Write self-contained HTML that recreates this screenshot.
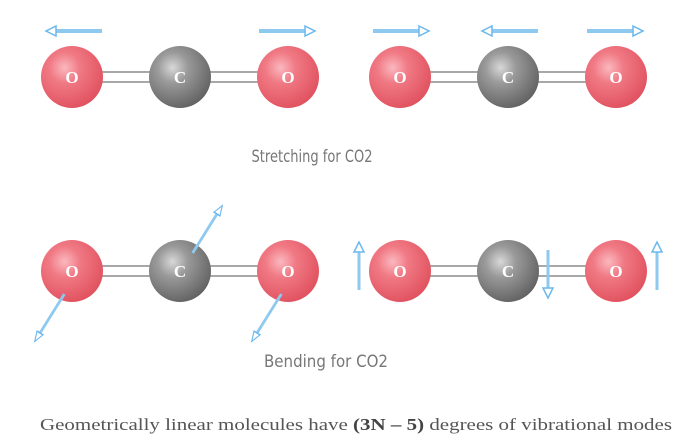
<!DOCTYPE html>
<html><head><style>body{margin:0;background:#fff}svg{display:block}</style></head><body>
<svg width="682" height="440" viewBox="0 0 682 440" xmlns="http://www.w3.org/2000/svg">
<defs>
<radialGradient id="r" cx="0.38" cy="0.35" r="0.7">
<stop offset="0" stop-color="#fbb8bf"/><stop offset="0.35" stop-color="#f07a85"/><stop offset="1" stop-color="#e0505d"/></radialGradient>
<radialGradient id="g" cx="0.38" cy="0.35" r="0.7">
<stop offset="0" stop-color="#d8d8d8"/><stop offset="0.35" stop-color="#9a9a9a"/><stop offset="1" stop-color="#606060"/></radialGradient>
<g id="mol">
<rect x="0" y="-6" width="216" height="12" fill="#fff"/>
<line x1="0" y1="-5" x2="216" y2="-5" stroke="#a8a8a8" stroke-width="2"/>
<line x1="0" y1="5" x2="216" y2="5" stroke="#a8a8a8" stroke-width="2"/>
<circle cx="0" cy="0" r="31" fill="url(#r)"/>
<circle cx="108" cy="0" r="31" fill="url(#g)"/>
<circle cx="216" cy="0" r="31" fill="url(#r)"/>
<g font-family="Liberation Serif,serif" font-weight="bold" font-size="17" fill="#fff" text-anchor="middle">
<text x="0" y="6">O</text><text x="108" y="6">C</text><text x="216" y="6">O</text></g>
</g>
<g id="ar"><line x1="0" y1="0" x2="-46" y2="0" stroke="#8ec9f0" stroke-width="4"/><path d="M0,-5 L10,0 L0,5 Z" fill="#fff" stroke="#6bb8ee" stroke-width="1.5"/></g>
<g id="arv"><line x1="0" y1="0" x2="0" y2="-38" stroke="#8ec9f0" stroke-width="3"/><path d="M-5,0 L0,10 L5,0 Z" fill="#fff" stroke="#6bb8ee" stroke-width="1.5" transform="translate(0,-38) rotate(180)"/></g>
</defs>
<use href="#mol" x="72" y="77"/>
<use href="#mol" x="400" y="77"/>
<use href="#mol" x="72" y="271"/>
<use href="#mol" x="400" y="271"/>
<use href="#ar" transform="translate(56,31) rotate(180)"/>
<use href="#ar" transform="translate(305,31)"/>
<use href="#ar" transform="translate(419,31)"/>
<use href="#ar" transform="translate(492,31) rotate(180)"/>
<use href="#ar" transform="translate(633,31)"/>
<use href="#ar" transform="translate(217,214) rotate(-58) scale(1,0.7)"/>
<use href="#ar" transform="translate(40,333) rotate(122) scale(1,0.7)"/>
<use href="#ar" transform="translate(257,333) rotate(122) scale(1,0.7)"/>
<use href="#arv" transform="translate(359,290)"/>
<use href="#arv" transform="translate(657,290)"/>
<use href="#arv" transform="translate(548,250) rotate(180)"/>
<g font-family="'DejaVu Sans',sans-serif" font-size="17" fill="#777" text-anchor="middle">
<text x="312" y="162" textLength="121" lengthAdjust="spacingAndGlyphs">Stretching for CO2</text>
<text x="326" y="367" textLength="124" lengthAdjust="spacingAndGlyphs">Bending for CO2</text></g>
<text x="40" y="430" font-family="Liberation Serif,serif" font-size="17" fill="#555" textLength="632" lengthAdjust="spacingAndGlyphs">Geometrically linear molecules have <tspan font-weight="bold" fill="#444">(3N – 5)</tspan> degrees of vibrational modes</text>
</svg>
</body></html>
